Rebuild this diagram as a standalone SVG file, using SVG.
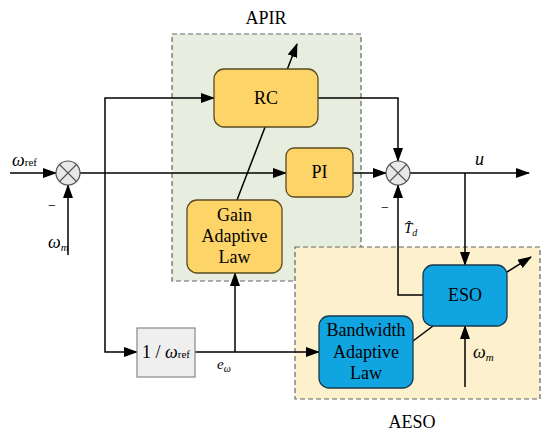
<svg xmlns="http://www.w3.org/2000/svg" width="550" height="440" viewBox="0 0 550 440">
<defs>
<marker id="ah" markerWidth="14" markerHeight="10" refX="13" refY="5" orient="auto" markerUnits="userSpaceOnUse">
<path d="M0,0 L14,5 L0,10 Z" fill="#000"/>
</marker>
<style>
.region{stroke:#666;stroke-width:1.2;stroke-dasharray:5,3}
.yb{fill:#fdd468;stroke:#5a4a20;stroke-width:1.3}
.bb{fill:#10a5e0;stroke:#17384f;stroke-width:1.3}
.ln{fill:none;stroke:#000;stroke-width:1.5}
.arr{fill:none;stroke:#000;stroke-width:1.5;marker-end:url(#ah)}
text{font-family:'Liberation Serif','Times New Roman',serif}
.t{font-size:18px;fill:#000;text-anchor:middle}
.it{font-style:italic;fill:#000}
.sum{fill:#e8e8e8;stroke:#555;stroke-width:1.2}
</style>
</defs>
<rect width="550" height="440" fill="#fff"/>
<g id="APIR">
<rect class="region" x="172" y="34" width="189" height="247" fill="#e8eedf"/>
<text class="t" x="266" y="24">APIR</text>
</g>
<g id="AESO">
<rect class="region" x="295" y="247" width="245" height="152" fill="#fdf0cc"/>
<text class="t" x="412" y="428">AESO</text>
</g>
<g id="connectors">
<line class="arr" x1="10" y1="173" x2="56" y2="173"/>
<line class="arr" x1="68" y1="255" x2="68" y2="185"/>
<line class="arr" x1="80" y1="173" x2="286" y2="173"/>
<polyline class="arr" points="105,173 105,98 214,98"/>
<polyline class="arr" points="105,173 105,352 137,352"/>
<line class="arr" x1="195" y1="352" x2="319" y2="352"/>
<line class="arr" x1="235" y1="352" x2="235" y2="273"/>
<line class="arr" x1="237" y1="200" x2="297" y2="44"/>
<line class="arr" x1="353" y1="173" x2="386" y2="173"/>
<polyline class="arr" points="318,98 398,98 398,161"/>
<line class="arr" x1="410" y1="173" x2="529" y2="173"/>
<line class="arr" x1="465" y1="173" x2="465" y2="265"/>
<polyline class="arr" points="423,295 398,295 398,185"/>
<line class="ln" x1="413" y1="341" x2="433" y2="326"/>
<line class="arr" x1="465" y1="387" x2="465" y2="326"/>
<line class="arr" x1="507" y1="272" x2="531" y2="257"/>
</g>
<g id="sum1">
<circle class="sum" cx="68" cy="173" r="12"/>
<path d="M59.5,164.5 L76.5,181.5 M76.5,164.5 L59.5,181.5" stroke="#555" stroke-width="1.1"/>
</g>
<g id="sum2">
<circle class="sum" cx="398" cy="173" r="12"/>
<path d="M389.5,164.5 L406.5,181.5 M406.5,164.5 L389.5,181.5" stroke="#555" stroke-width="1.1"/>
</g>
<g id="RC">
<rect class="yb" x="214" y="69" width="104" height="58" rx="10"/>
<text class="t" x="266" y="104">RC</text>
</g>
<g id="PI">
<rect class="yb" x="286" y="148" width="67" height="49" rx="8"/>
<text class="t" x="319.5" y="178">PI</text>
</g>
<g id="GainAdaptiveLaw">
<rect class="yb" x="187" y="200" width="95" height="73" rx="10"/>
<text class="t" x="234.5" y="221">Gain</text>
<text class="t" x="234.5" y="242">Adaptive</text>
<text class="t" x="234.5" y="263">Law</text>
</g>
<g id="InvRef">
<rect x="137" y="328" width="58" height="49" fill="#efefef" stroke="#888" stroke-width="1.2"/>
<text x="166" y="358" font-size="18" text-anchor="middle">1 / <tspan font-style="italic">ω</tspan><tspan font-size="11">ref</tspan></text>
</g>
<g id="BandwidthAdaptiveLaw">
<rect class="bb" x="319" y="316" width="94" height="72" rx="10"/>
<text class="t" x="366" y="336">Bandwidth</text>
<text class="t" x="366" y="358">Adaptive</text>
<text class="t" x="366" y="379">Law</text>
</g>
<g id="ESO">
<rect class="bb" x="423" y="265" width="84" height="61" rx="10"/>
<text class="t" x="465" y="301">ESO</text>
</g>
<g id="labels">
<text class="it" x="12" y="166" font-size="18">ω<tspan font-style="normal" font-size="11">ref</tspan></text>
<text x="48" y="210" font-size="14">−</text>
<text class="it" x="48" y="248" font-size="18">ω<tspan font-size="11" dy="3">m</tspan></text>
<text class="it" x="475" y="165" font-size="18">u</text>
<text x="381" y="212" font-size="14">−</text>
<text class="it" x="404" y="233" font-size="15">T̂<tspan font-size="10" dy="3">d</tspan></text>
<text class="it" x="217" y="369" font-size="15">e<tspan font-size="10" dy="3">ω</tspan></text>
<text class="it" x="473" y="358" font-size="18">ω<tspan font-size="11" dy="3">m</tspan></text>
</g>
</svg>
